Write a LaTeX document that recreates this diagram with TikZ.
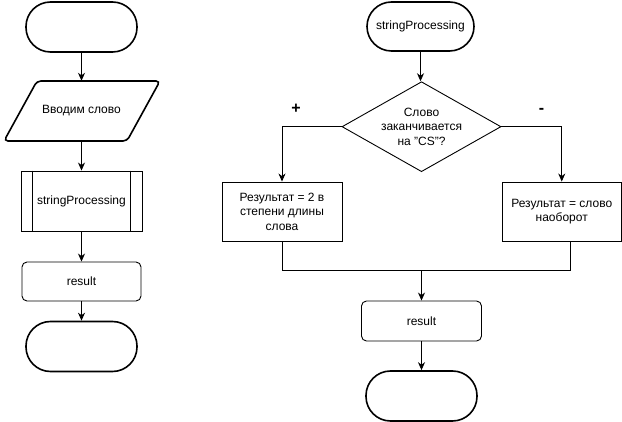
\documentclass[tikz,border=0pt]{standalone}
\usepackage{fontspec}
\setmainfont{Liberation Sans}
\usetikzlibrary{shapes.geometric,arrows.meta}
\tikzset{
  txt/.style={font=\fontsize{12pt}{14.5pt}\selectfont, align=center, inner sep=0pt},
  term/.style={txt, draw, line width=1.6pt, rounded corners=24.5pt, minimum width=111pt, minimum height=50pt},
  procbox/.style={txt, draw, line width=0.9pt, minimum width=120pt, minimum height=59pt},
  resbox/.style={txt, draw, line width=0.9pt, rounded corners=5pt, minimum width=120pt, minimum height=40pt},
  arr/.style={line width=0.9pt, -{Stealth[length=8pt,width=7pt,inset=2.5pt]}},
  conn/.style={line width=0.9pt},
  sign/.style={font=\fontsize{16pt}{16pt}\selectfont\bfseries, inner sep=0pt, anchor=base}
}
\begin{document}
\begin{tikzpicture}[x=1pt,y=-1pt]
\useasboundingbox (0,0) rectangle (622,422);
% left column
\node[term] (s1) at (81.5,27) {};
\node[txt, minimum width=123pt, minimum height=60pt] (in) at (81.5,111) {Вводим слово};
\draw[line width=1.6pt, rounded corners=4pt] (37,81) -- (160,81) -- (127,141) -- (4,141) -- cycle;
\node[txt, draw, line width=0.9pt, minimum width=121pt, minimum height=60pt] (sub) at (81.5,201) {stringProcessing};
\draw[line width=0.9pt] ([xshift=12pt]sub.north west) -- ([xshift=12pt]sub.south west);
\draw[line width=0.9pt] ([xshift=-12pt]sub.north east) -- ([xshift=-12pt]sub.south east);
\node[resbox, minimum width=119pt, minimum height=39pt] (r1) at (81.5,281.5) {result};
\node[term] (e1) at (81.5,346.5) {};
\draw[arr] (s1) -- (in);
\draw[arr] (in) -- (sub);
\draw[arr] (sub) -- (r1);
\draw[arr] (r1) -- (e1);
% right column
\node[term, minimum width=107pt, minimum height=49pt] (s2) at (420.5,26.5) {stringProcessing};
\node[diamond, draw, line width=0.9pt, minimum width=159pt, minimum height=90pt, inner sep=0pt] (dec) at (421.5,126.7) {};
\node[txt] (dect) at (dec.center) {Слово\\заканчивается\\на \symbol{34}CS\symbol{34}?};
\node[procbox] (rl) at (282,211.5) {Результат = 2 в\\степени длины\\слова};
\node[procbox, minimum width=119.5pt] (rr) at (561.75,211.5) {Результат = слово\\наоборот};
\node[sign] (plus) at (296,113.5) {+};
\node[sign] (minus) at (541.5,113.5) {-};
\coordinate (rrb) at (570,241);
\coordinate (mj) at (421.5,270.5);
\node[resbox] (r2) at (421.5,321) {result};
\node[term] (e2) at (421.5,396) {};
\draw[arr] (s2) -- (s2 |- dec.north);
\draw[arr] (dec.west) -| (rl.north);
\draw[arr] (dec.east) -| (rr.north);
\draw[conn] (rl.south) |- (mj) -| (rrb);
\draw[arr] (mj) -- (r2);
\draw[arr] (r2) -- (e2);
\end{tikzpicture}
\end{document}
